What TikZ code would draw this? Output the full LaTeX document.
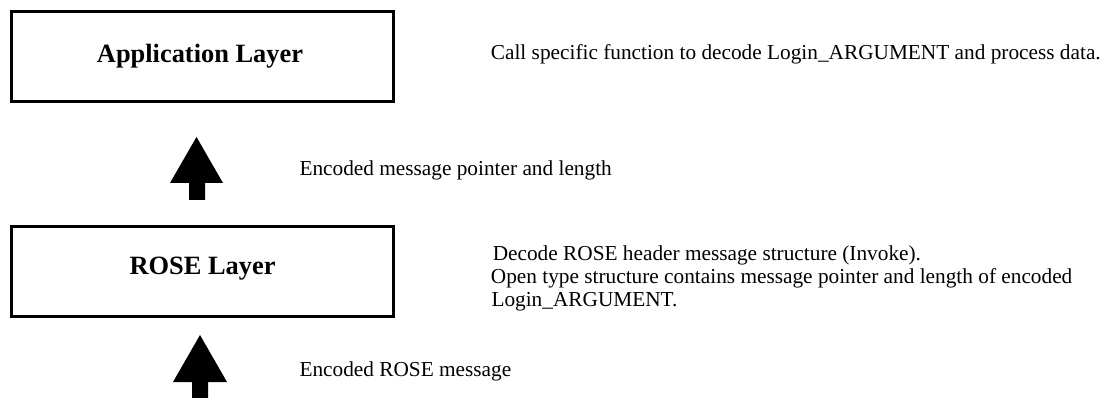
\documentclass[tikz,border=0pt]{standalone}
\usepackage{fontspec}
\setmainfont{Liberation Serif}
\begin{document}
\begin{tikzpicture}[x=1pt,y=-1pt,
  layerbox/.style={draw=black, line width=3pt, fill=white},
  layertext/.style={font=\fontsize{26.4}{30}\selectfont\bfseries, inner sep=0pt, anchor=base},
  desc/.style={font=\fontsize{21.3}{23.5}\selectfont, inner sep=0pt, anchor=base west},
  bigarrow/.style={fill=black, draw=none}
]
\useasboundingbox (0,0) rectangle (1104,398);
% boxes
\node[layerbox, minimum width=381.8pt, minimum height=90.5pt, inner sep=0pt] (appbox) at (202.4,56.75) {};
\node[layertext] (applbl) at (200,62.8) {Application Layer};
\node[layerbox, minimum width=381.8pt, minimum height=90.3pt, inner sep=0pt] (rosebox) at (202.4,271.85) {};
\node[layertext] (roselbl) at (202.5,274.2) {ROSE Layer};
% arrows
\fill[bigarrow] (196.5,137) -- (223,183) -- (205,183) -- (205,200) -- (189,200) -- (189,183) -- (170,183) -- cycle;
\fill[bigarrow] (200,335) -- (227,382) -- (208,382) -- (208,400) -- (192,400) -- (192,382) -- (173,382) -- cycle;
% descriptions
\node[desc] (calltxt) at (490.7,59.3) {Call specific function to decode Login\_ARGUMENT and process data.};
\node[desc] (enc1) at (299.3,175.2) {Encoded message pointer and length};
\node[desc] (dec1) at (492.6,260.2) {Decode ROSE header message structure (Invoke).};
\node[desc] (dec2) at (490.7,283.6) {Open type structure contains message pointer and length of encoded};
\node[desc] (dec3) at (491.3,307) {Login\_ARGUMENT.};
\node[desc] (enc2) at (299.3,376.7) {Encoded ROSE message};
\end{tikzpicture}
\end{document}
